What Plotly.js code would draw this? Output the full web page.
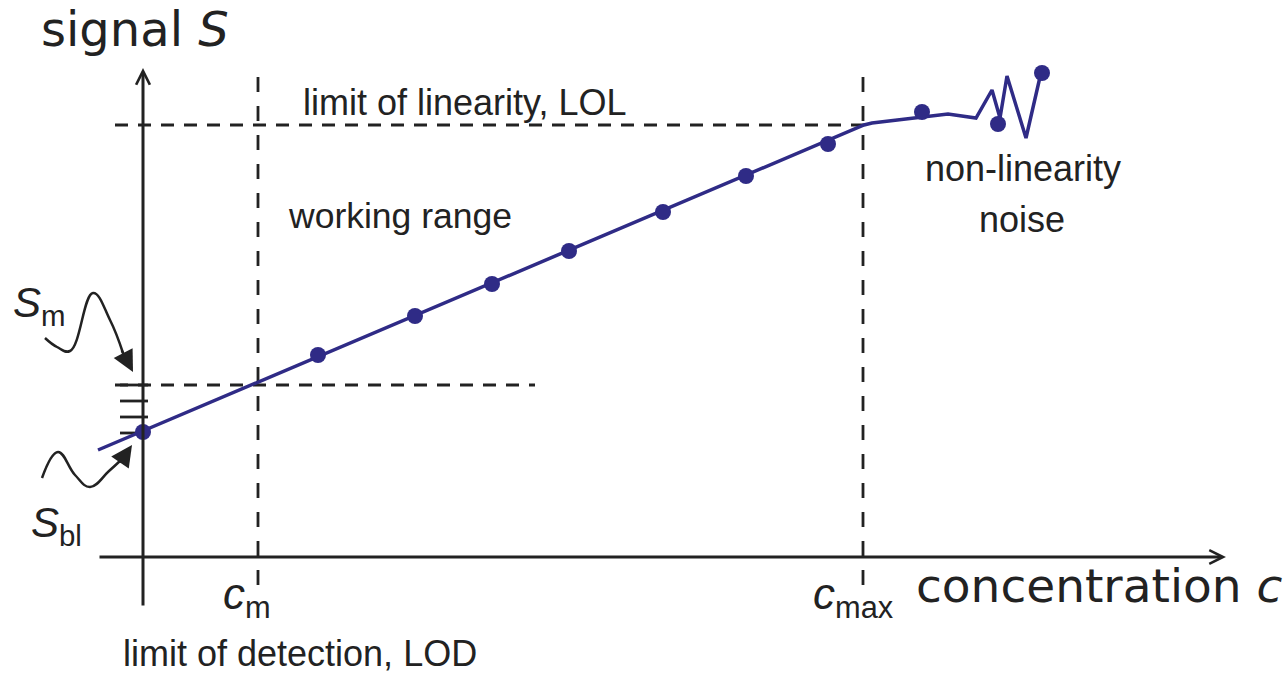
<!DOCTYPE html>
<html>
<head>
<meta charset="utf-8">
<script src="https://cdn.plot.ly/plotly-3.0.1.min.js"></script>
<style>
  html, body { margin: 0; padding: 0; background: #fff; }
  #chart { width: 1288px; height: 676px; }
</style>
</head>
<body>
<div id="chart"></div>
<script>
// calibration points (concentration c, signal S), arbitrary units
const calConc = [0, 175, 272, 349, 426, 520, 603, 685, 779, 855, 899];
const calSignal = [125, 202, 241, 273, 306, 345, 381, 413, 445, 433, 484];

// fitted line, then the noisy non-linear part
const curveConc = [-45, 721, 729, 805, 833, 849, 857, 864, 883, 897];
const curveSignal = [107, 432, 434, 443, 439, 467, 439, 481, 419, 480];

// repeated blank measurements on the signal axis
const blankSignal = [172, 156, 140, 124];

// key levels
const cM = 115;       // LOD concentration
const cMax = 720;     // LOL concentration
const sM = 172;       // signal at LOD
const sLol = 432;     // signal at LOL

// wavy pointer curves for S_m and S_bl
const smCurveX = [-98, -86, -73, -50, -33, -20];
const smCurveY = [219, 210, 206, 264, 237, 204];
const sblCurveX = [-101, -85, -68, -53, -34, -22];
const sblCurveY = [79, 105, 82, 70, 86, 97];

const navy = "#2f2b86";
const ink = "#222222";
const sans = "Liberation Sans, Arial, sans-serif";
const verd = "DejaVu Sans, Verdana, sans-serif";

function dashed(x, y, dash) {
  return {
    x: x, y: y, type: "scatter", mode: "lines",
    line: { color: ink, width: 2.8, dash: dash },
    hoverinfo: "none",
  };
}

const data = [
  dashed([-28, 727], [sLol, sLol], "13px,10px"),
  dashed([-28, 392], [sM, sM], "13px,10px"),
  dashed([cM, cM], [-28, 492], "15px,14px"),
  dashed([cMax, cMax], [-28, 492], "15px,14px"),
  {
    x: blankSignal.map(() => -9), y: blankSignal,
    type: "scatter", mode: "markers",
    marker: { symbol: "line-ew", size: 20, line: { color: ink, width: 2.8 } },
    hoverinfo: "none",
  },
  {
    x: curveConc, y: curveSignal, type: "scatter", mode: "lines",
    line: { color: navy, width: 3.5 },
    hoverinfo: "none",
  },
  {
    x: calConc, y: calSignal, type: "scatter", mode: "markers",
    marker: { color: navy, size: 16 },
    hoverinfo: "none",
  },
  {
    x: smCurveX, y: smCurveY, type: "scatter", mode: "lines",
    line: { color: ink, width: 2.5, shape: "spline", smoothing: 1.2 },
    hoverinfo: "none",
  },
  {
    x: sblCurveX, y: sblCurveY, type: "scatter", mode: "lines",
    line: { color: ink, width: 2.5, shape: "spline", smoothing: 1.2 },
    hoverinfo: "none",
  },
];

function label(text, x, y, size, xanchor, family) {
  return {
    x: x, y: y, xref: "x", yref: "y", text: text, showarrow: false,
    xanchor: xanchor || "left", yanchor: "middle",
    font: { family: family || sans, size: size, color: ink },
  };
}

function arrow(x0, y0, x1, y1, head, size, width) {
  return {
    x: x1, y: y1, ax: x0, ay: y0, xref: "x", yref: "y", axref: "x", ayref: "y",
    text: "", showarrow: true, arrowhead: head, arrowsize: size,
    arrowwidth: width, arrowcolor: ink, standoff: 0,
  };
}

const layout = {
  width: 1288,
  height: 676,
  margin: { l: 0, r: 0, t: 0, b: 0 },
  paper_bgcolor: "#ffffff",
  plot_bgcolor: "#ffffff",
  showlegend: false,
  xaxis: { range: [-143, 1145], visible: false, fixedrange: true },
  yaxis: { range: [-119, 557], visible: false, fixedrange: true },
  annotations: [
    // axes
    arrow(-45, 0, 1083, 0, 5, 0.9, 3),
    arrow(0, -50, 0, 489, 5, 0.9, 3),
    // pointer heads
    arrow(-22, 208, -10, 185, 2, 1.7, 2.5),
    arrow(-24, 93, -11, 112, 2, 1.7, 2.5),
    // texts
    label("signal <i>S</i>", -104, 528, 48, "left", verd),
    label("concentration <i>c</i>", 771, -28, 47, "left", verd),
    label("limit of linearity, LOL", 158, 455, 36),
    label("working range", 143, 341, 35.5),
    label("non-linearity", 880, 389, 36, "center"),
    label("noise", 879, 338, 36, "center"),
    label("limit of detection, LOD", -22, -96, 36),
    label("<i>S</i><sub>m</sub>", -132, 252, 42),
    label("<i>S</i><sub>bl</sub>", -114, 32, 42),
    label("<i>c</i><sub>m</sub>", 78, -40, 44),
    label("<i>c</i><sub>max</sub>", 668, -40, 44),
  ],
};

Plotly.newPlot("chart", data, layout, { displayModeBar: false, staticPlot: true });
</script>
</body>
</html>
